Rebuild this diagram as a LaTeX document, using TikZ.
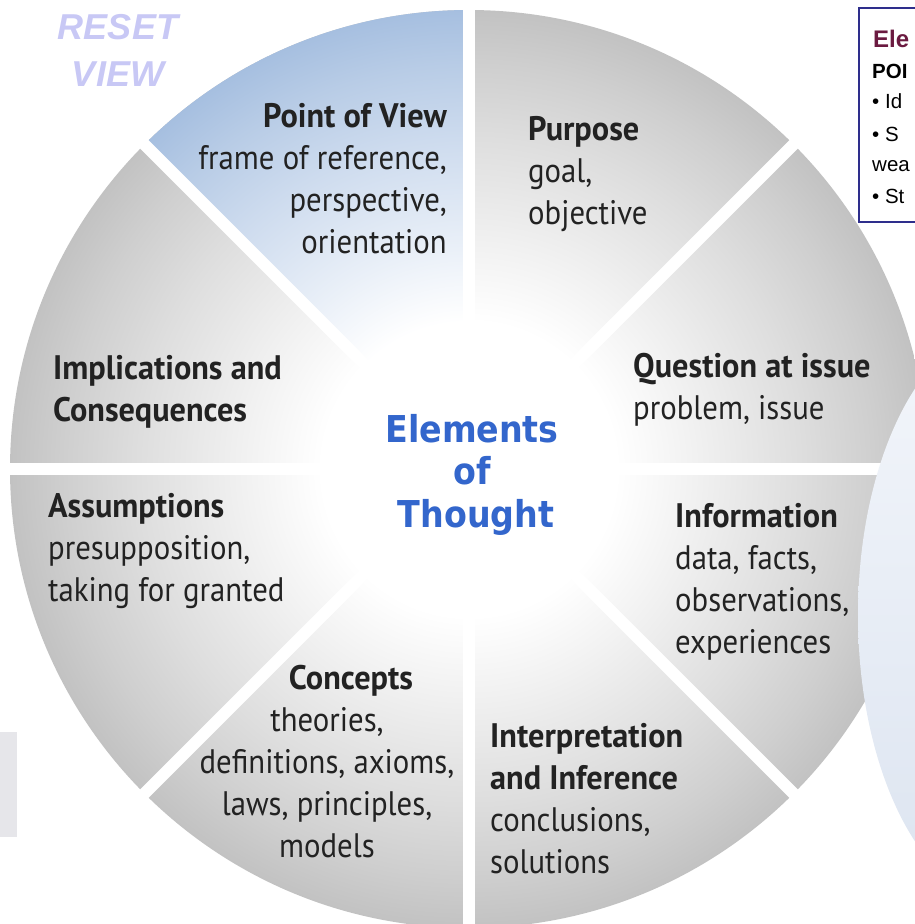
\documentclass[tikz,border=0pt]{standalone}
\usepackage{fontspec}
\setmainfont{PT Sans}
\newfontfamily\labfont[FakeStretch=0.905]{PT Sans}
\newfontfamily\labbold[FakeStretch=0.95]{PT Sans}
\newfontfamily\ctrfont[FakeStretch=0.9]{DejaVu Sans}
\newfontfamily\arialfont{Liberation Sans}
\definecolor{gA}{HTML}{F2F2F2}
\definecolor{gB}{HTML}{DEDEDE}
\definecolor{gC}{HTML}{CFCFCF}
\definecolor{gD}{HTML}{C2C2C2}
\definecolor{bA}{HTML}{EAF0F8}
\definecolor{bB}{HTML}{CDDBEE}
\definecolor{bC}{HTML}{B8CCE6}
\definecolor{bD}{HTML}{A6BFE0}
\definecolor{ctrblue}{HTML}{3366CC}
\definecolor{resetcol}{HTML}{C8C8F5}
\definecolor{boxblue}{HTML}{2E2E8C}
\definecolor{maroon}{HTML}{6B1A40}
\definecolor{elltop}{HTML}{F3F6FB}
\definecolor{ellbot}{HTML}{DCE4F0}
\definecolor{panel}{HTML}{E6E6EA}
\definecolor{labtext}{HTML}{222222}
\pgfdeclareradialshading{ringgray}{\pgfpoint{0bp}{0bp}}{color(0bp)=(white); color(8bp)=(white); color(12bp)=(gA); color(18bp)=(gB); color(22bp)=(gC); color(25bp)=(gD); color(50bp)=(gD)}
\pgfdeclareradialshading{ringblue}{\pgfpoint{0bp}{0bp}}{color(0bp)=(white); color(8bp)=(white); color(12bp)=(bA); color(18bp)=(bB); color(22bp)=(bC); color(25bp)=(bD); color(50bp)=(bD)}
\newcommand{\firstline}[1]{\rule{0pt}{#1pt}}
\newcommand{\hd}[1]{{\labbold\bfseries #1}}
\begin{document}
\begin{tikzpicture}[x=1pt,y=-1pt,
  lab/.style={font=\labfont\fontsize{34}{42}\selectfont, inner sep=0pt, text=labtext},
  ctr/.style={font=\ctrfont\bfseries\fontsize{37}{42.5}\selectfont, inner sep=0pt, text=ctrblue, align=center},
  gapline/.style={draw=white, line width=12pt},
  boxtext/.style={font=\arialfont\fontsize{20.5}{24}\selectfont, inner sep=0pt, anchor=base west}]
\useasboundingbox (0,0) rectangle (915,924);
\coordinate (C) at (469,469);
% ring
\shade[shading=ringgray] (C) circle[radius=459pt];
\begin{scope}
  \clip (C) -- (469,-20) -- (-20,-20) -- cycle;
  \shade[shading=ringblue] (C) circle[radius=459pt];
\end{scope}
% gaps
\draw[gapline] (-20,469) -- (940,469);
\draw[gapline] (469,-20) -- (469,940);
\draw[gapline] (-10,-10) -- (948,948);
\draw[gapline] (948,-10) -- (-10,948);
% right ellipse
\shade[top color=elltop, bottom color=ellbot] (1010,615) ellipse[x radius=152pt, y radius=290pt];
% left panel
\fill[panel] (-5,732) rectangle (17,837);
% labels
\node[lab, anchor=north east, align=right] (pov) at (447,97)
  {\firstline{30}\hd{Point of View}\\frame of reference,\\perspective,\\orientation};
\node[lab, anchor=north west, align=left] (purpose) at (528,110)
  {\firstline{30}\hd{Purpose}\\goal,\\objective};
\node[lab, anchor=north west, align=left] (question) at (633,347)
  {\firstline{30}\hd{Question at issue}\\problem, issue};
\node[lab, anchor=north west, align=left] (info) at (675,497)
  {\firstline{30}\hd{Information}\\data, facts,\\observations,\\experiences};
\node[lab, anchor=north west, align=left] (interp) at (490,717)
  {\firstline{30}\hd{Interpretation}\\\hd{and Inference}\\conclusions,\\solutions};
\node[lab, anchor=north, align=center] (concepts) at (327,659)
  {\firstline{30}\hspace*{48pt}\hd{Concepts}\\theories,\\definitions, axioms,\\laws, principles,\\models};
\node[lab, anchor=north west, align=left] (assump) at (48,487)
  {\firstline{30}\hd{Assumptions}\\presupposition,\\taking for granted};
\node[lab, anchor=north west, align=left] (impl) at (53,349)
  {\firstline{30}\hd{Implications and}\\\hd{Consequences}};
\node[ctr, anchor=north] (center) at (472,407)
  {\firstline{35}Elements\\of\\\hspace*{8pt}Thought};
% reset view
\node[font=\arialfont\bfseries\itshape\fontsize{36}{47}\selectfont, text=resetcol, inner sep=0pt, anchor=north, align=center] (reset) at (118,9)
  {\firstline{30}RESET\\VIEW};
% info box
\draw[draw=boxblue, line width=2pt, fill=white] (859,8) rectangle (940,222);
\node[boxtext, font=\arialfont\bfseries\fontsize{24}{28}\selectfont, text=maroon] (b1) at (873,47) {Ele};
\node[boxtext, font=\arialfont\bfseries\fontsize{20.5}{24}\selectfont] (b2) at (872,78) {POI};
\node[boxtext] (b3) at (872,108) {\textbullet\ Id};
\node[boxtext] (b4) at (872,141) {\textbullet\ S};
\node[boxtext] (b5) at (872,171) {wea};
\node[boxtext] (b6) at (872,203) {\textbullet\ St};
\end{tikzpicture}
\end{document}
